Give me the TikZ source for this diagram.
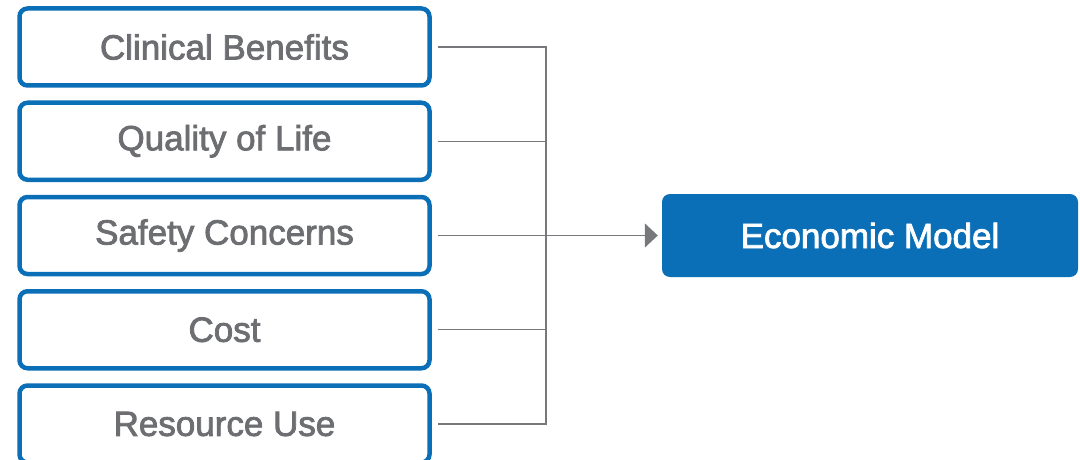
\documentclass[tikz,border=0pt]{standalone}
\usepackage{fontspec}
\setmainfont{Liberation Sans}
\newfontfamily\medfont{Liberation Sans}[FakeBold=2.2]
\usetikzlibrary{arrows.meta}
\definecolor{bblue}{HTML}{0B6FB8}
\definecolor{tgray}{HTML}{6D6E71}
\definecolor{lgray}{HTML}{77787B}
\tikzset{
  inbox/.style={draw=bblue, line width=4.5pt, rounded corners=8pt, fill=white,
    minimum width=410pt, minimum height=77pt, inner sep=0pt,
    text=tgray, font=\medfont\fontsize{35}{39}\selectfont},
  outbox/.style={fill=bblue, rounded corners=8pt, minimum width=416pt, minimum height=83pt,
    inner sep=0pt, text=white, font=\medfont\fontsize{35}{39}\selectfont},
  conn/.style={draw=lgray, line width=1.4pt},
}
\begin{document}
\begin{tikzpicture}[x=1pt,y=-1pt]
\useasboundingbox[fill=white] (0,0) rectangle (1080,460);
\node[inbox] (b1) at (224.5,47) {Clinical Benefits};
\node[inbox] (b2) at (224.5,141.25) {Quality of Life};
\node[inbox] (b3) at (224.5,235.5) {Safety Concerns};
\node[inbox] (b4) at (224.5,329.75) {Cost};
\node[inbox] (b5) at (224.5,424) {Resource Use};
\node[outbox] (em) at (870,235.5) {Economic Model};
\coordinate (j) at (546,235.5);
\draw[conn] ([xshift=6pt]b1.east) -- (b1.east -| j) -- (b5.east -| j) -- ([xshift=6pt]b5.east);
\draw[conn] ([xshift=6pt]b2.east) -- (b2.east -| j);
\draw[conn] ([xshift=6pt]b4.east) -- (b4.east -| j);
\draw[conn, -{Triangle[length=13pt,width=24pt]}] ([xshift=6pt]b3.east) -- ([xshift=-4pt]em.west);
\end{tikzpicture}
\end{document}
